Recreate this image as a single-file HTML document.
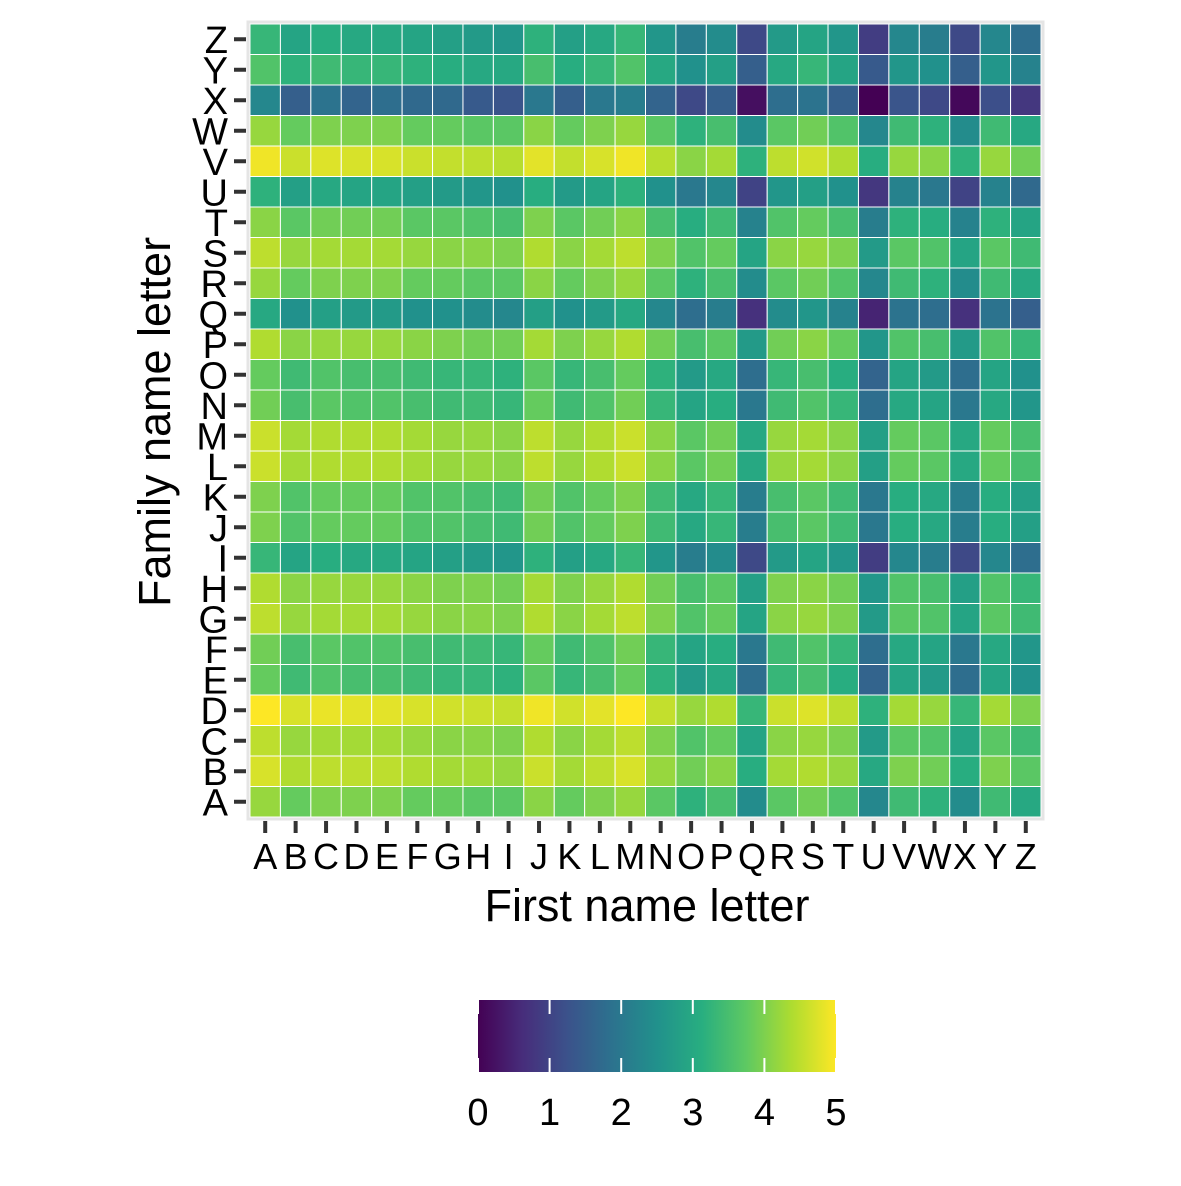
<!DOCTYPE html>
<html><head><meta charset="utf-8"><style>
body{margin:0;background:#fff;}
svg text{font-family:"Liberation Sans",Arial,sans-serif;fill:#000;}
</style></head><body>
<svg id="chart" width="1181" height="1181" viewBox="0 0 1181 1181" xmlns="http://www.w3.org/2000/svg">
<defs>
<linearGradient id="vgrad" x1="0" x2="1" y1="0" y2="0">
<stop offset="0" stop-color="#440154"/><stop offset="0.125" stop-color="#472d7b"/><stop offset="0.25" stop-color="#3b528b"/><stop offset="0.375" stop-color="#2c728e"/><stop offset="0.5" stop-color="#21918c"/><stop offset="0.625" stop-color="#28ae80"/><stop offset="0.75" stop-color="#5ec962"/><stop offset="0.875" stop-color="#addc30"/><stop offset="1" stop-color="#fde725"/>
</linearGradient>
</defs>
<rect x="248" y="22" width="795" height="797" fill="#fff" stroke="#e5e5e5" stroke-width="3"/>
<g id="cells"></g>
<g id="axes"></g>
<text x="647" y="921" font-size="45" text-anchor="middle">First name letter</text>
<text transform="translate(170,422) rotate(-90)" font-size="45" text-anchor="middle">Family name letter</text>
<g>
<rect x="478" y="1000" width="358" height="72" fill="url(#vgrad)"/>
<g id="cbticks"></g>
</g>
</svg>
<script>
const letters = ["A","B","C","D","E","F","G","H","I","J","K","L","M","N","O","P","Q","R","S","T","U","V","W","X","Y","Z"];
const rowA = [4.2,3.8,4.0,4.0,4.0,3.8,3.8,3.7,3.7,4.1,3.8,4.0,4.2,3.7,3.2,3.5,2.4,3.7,3.9,3.6,2.3,3.4,3.2,2.4,3.4,3.0];
const rowB = [4.7,4.4,4.5,4.5,4.5,4.4,4.3,4.3,4.2,4.6,4.3,4.5,4.7,4.2,3.9,4.1,3.1,4.3,4.4,4.2,3.0,4.0,3.9,3.1,4.0,3.7];
const rowC = [4.5,4.2,4.3,4.3,4.3,4.2,4.1,4.1,4.0,4.4,4.1,4.3,4.5,4.0,3.6,3.8,2.9,4.1,4.2,4.0,2.7,3.7,3.6,2.9,3.7,3.4];
const rowD = [5.0,4.7,4.85,4.8,4.8,4.7,4.65,4.6,4.55,4.9,4.65,4.8,5.0,4.55,4.2,4.4,3.3,4.6,4.75,4.5,3.2,4.3,4.2,3.3,4.3,4.0];
const rowE = [3.8,3.4,3.6,3.5,3.5,3.4,3.3,3.3,3.2,3.7,3.3,3.5,3.8,3.2,2.7,3.0,1.8,3.3,3.5,3.1,1.6,2.9,2.7,1.8,2.9,2.5];
const rowF = [3.9,3.5,3.7,3.6,3.6,3.5,3.4,3.4,3.3,3.8,3.4,3.6,3.9,3.3,2.9,3.1,2.0,3.4,3.6,3.3,1.8,3.0,2.9,2.0,3.0,2.6];
const rowG = [4.5,4.2,4.3,4.3,4.3,4.2,4.1,4.1,4.0,4.4,4.1,4.3,4.5,4.0,3.6,3.8,2.9,4.1,4.2,4.0,2.7,3.7,3.6,2.9,3.7,3.4];
const rowH = [4.4,4.1,4.2,4.2,4.2,4.1,4.0,4.0,3.9,4.3,4.0,4.2,4.4,3.9,3.5,3.7,2.8,4.0,4.1,3.9,2.6,3.6,3.5,2.8,3.6,3.3];
const rowI = [3.3,2.9,3.1,3.0,3.0,2.9,2.8,2.7,2.6,3.2,2.8,3.0,3.3,2.6,2.1,2.4,1.1,2.7,2.9,2.6,0.9,2.3,2.1,1.1,2.3,1.8];
const rowJ = [4.0,3.6,3.8,3.8,3.8,3.6,3.6,3.5,3.4,3.9,3.6,3.8,4.0,3.4,3.0,3.3,2.1,3.5,3.7,3.4,2.0,3.1,3.0,2.1,3.1,2.8];
const rowK = [4.0,3.6,3.8,3.8,3.8,3.6,3.6,3.5,3.4,3.9,3.6,3.8,4.0,3.4,3.0,3.3,2.1,3.5,3.7,3.4,2.0,3.1,3.0,2.1,3.1,2.8];
const rowL = [4.6,4.3,4.4,4.4,4.4,4.3,4.2,4.2,4.1,4.5,4.2,4.4,4.6,4.1,3.7,3.9,3.0,4.2,4.3,4.1,2.8,3.8,3.7,3.0,3.8,3.5];
const rowM = [4.6,4.3,4.4,4.4,4.4,4.3,4.2,4.2,4.1,4.5,4.2,4.4,4.6,4.1,3.7,3.9,3.0,4.2,4.3,4.1,2.8,3.8,3.7,3.0,3.8,3.5];
const rowN = [3.9,3.5,3.7,3.6,3.6,3.5,3.4,3.4,3.3,3.8,3.4,3.6,3.9,3.3,2.9,3.1,2.0,3.4,3.6,3.3,1.8,3.0,2.9,2.0,3.0,2.6];
const rowO = [3.8,3.4,3.6,3.5,3.5,3.4,3.3,3.3,3.2,3.7,3.3,3.5,3.8,3.2,2.7,3.0,1.8,3.3,3.5,3.1,1.6,2.9,2.7,1.8,2.9,2.5];
const rowP = [4.4,4.1,4.2,4.2,4.2,4.1,4.0,3.9,3.9,4.3,4.0,4.2,4.4,3.9,3.5,3.7,2.7,3.9,4.1,3.8,2.6,3.6,3.5,2.7,3.6,3.3];
const rowQ = [3.0,2.5,2.8,2.7,2.7,2.5,2.5,2.4,2.3,2.8,2.5,2.7,3.0,2.3,1.8,2.1,0.7,2.4,2.6,2.2,0.5,1.9,1.8,0.7,1.9,1.5];
const rowR = [4.2,3.8,4.0,4.0,4.0,3.8,3.8,3.7,3.7,4.1,3.8,4.0,4.2,3.7,3.2,3.5,2.4,3.7,3.9,3.6,2.3,3.4,3.2,2.4,3.4,3.0];
const rowS = [4.5,4.2,4.3,4.3,4.3,4.2,4.1,4.1,4.0,4.4,4.1,4.3,4.5,4.0,3.6,3.8,2.9,4.1,4.2,4.0,2.7,3.7,3.6,2.9,3.7,3.4];
const rowT = [4.1,3.7,3.9,3.9,3.9,3.7,3.7,3.6,3.5,4.0,3.7,3.9,4.1,3.5,3.1,3.4,2.2,3.6,3.8,3.5,2.1,3.2,3.1,2.2,3.2,2.9];
const rowU = [3.2,2.8,3.0,2.9,2.9,2.8,2.7,2.6,2.5,3.1,2.7,2.9,3.2,2.5,2.0,2.3,1.0,2.6,2.8,2.5,0.8,2.2,2.0,1.0,2.2,1.7];
const rowV = [4.9,4.6,4.75,4.7,4.7,4.6,4.55,4.5,4.45,4.8,4.55,4.7,4.9,4.45,4.1,4.3,3.2,4.5,4.65,4.4,3.1,4.2,4.1,3.2,4.2,3.9];
const rowW = [4.2,3.8,4.0,4.0,4.0,3.8,3.8,3.7,3.7,4.1,3.8,4.0,4.2,3.7,3.2,3.5,2.4,3.7,3.9,3.6,2.3,3.4,3.2,2.4,3.4,3.0];
const rowX = [2.3,1.5,1.9,1.6,1.8,1.7,1.7,1.4,1.3,2.0,1.5,2.0,2.1,1.6,1.1,1.5,0.2,1.8,1.9,1.5,0.0,1.3,1.1,0.1,1.2,0.8];
const rowY = [3.6,3.2,3.4,3.3,3.3,3.2,3.1,3.0,3.0,3.5,3.1,3.3,3.6,3.0,2.5,2.8,1.5,3.0,3.3,2.9,1.4,2.6,2.5,1.5,2.6,2.2];
const rowZ = [3.3,2.9,3.1,3.0,3.0,2.9,2.8,2.7,2.6,3.2,2.8,3.0,3.3,2.6,2.1,2.4,1.1,2.7,2.9,2.6,0.9,2.3,2.1,1.1,2.3,1.8];
const matrix = [rowA,rowB,rowC,rowD,rowE,rowF,rowG,rowH,rowI,rowJ,rowK,rowL,rowM,rowN,rowO,rowP,rowQ,rowR,rowS,rowT,rowU,rowV,rowW,rowX,rowY,rowZ];
const cbTicks = [0,1,2,3,4,5];

const NS = "http://www.w3.org/2000/svg";
const px0 = 250, px1 = 1041, py0 = 24, py1 = 817;
const cw = (px1 - px0) / letters.length, ch = (py1 - py0) / letters.length;
const xCenter = i => px0 + (i + 0.5) * cw;
const yCenter = j => py1 - (j + 0.5) * ch;
const vmin = 0, vmax = 5;
const cbX = v => 478 + (v - vmin) / (vmax - vmin) * 358;
const stops = ["#440154","#472d7b","#3b528b","#2c728e","#21918c","#28ae80","#5ec962","#addc30","#fde725"];
function hex(c){return [1,3,5].map(k=>parseInt(c.substr(k,2),16));}
function viridis(v){
  let t = Math.max(0, Math.min(1, (v - vmin) / (vmax - vmin))) * (stops.length - 1);
  let i = Math.min(Math.floor(t), stops.length - 2), f = t - i;
  const a = hex(stops[i]), b = hex(stops[i+1]);
  return "rgb(" + a.map((x,k)=>Math.round(x + (b[k]-x)*f)).join(",") + ")";
}
function mk(tag, attrs, parent){const e=document.createElementNS(NS,tag);for(const k in attrs)e.setAttribute(k,attrs[k]);parent.appendChild(e);return e;}

const cells = document.getElementById("cells");
matrix.forEach((row, j) => {
  row.forEach((v, i) => {
    const r = mk("rect", {x: xCenter(i) - cw/2, y: yCenter(j) - ch/2, width: cw, height: ch, fill: viridis(v), stroke: "#fff", "stroke-width": 1}, cells);
    
    
  });
});

const axes = document.getElementById("axes");
letters.forEach((L, i) => {
  const t = mk("line", {x1: xCenter(i), x2: xCenter(i), y1: 821, y2: 833, stroke: "#333", "stroke-width": 4}, axes);
  
  
  const lb = mk("text", {x: xCenter(i), y: 869, "font-size": 36, "text-anchor": "middle"}, axes);
  lb.textContent = L;
  
  
  const ty = mk("line", {x1: 234, x2: 246, y1: yCenter(i), y2: yCenter(i), stroke: "#333", "stroke-width": 4}, axes);
  
  
  const ly = mk("text", {x: 228, y: yCenter(i) + 13.5, "font-size": 38, "text-anchor": "end"}, axes);
  ly.textContent = L;
  
  
});

const cbt = document.getElementById("cbticks");
cbTicks.forEach(v => {
  const a = mk("line", {x1: cbX(v), x2: cbX(v), y1: 1000, y2: 1014, stroke: "#fff", "stroke-width": 2}, cbt);
  
  
  const b = mk("line", {x1: cbX(v), x2: cbX(v), y1: 1058, y2: 1072, stroke: "#fff", "stroke-width": 2}, cbt);
  
  
  const l = mk("text", {x: cbX(v), y: 1125, "font-size": 38, "text-anchor": "middle"}, cbt);
  l.textContent = v;
  
  
});
</script>
</body></html>
